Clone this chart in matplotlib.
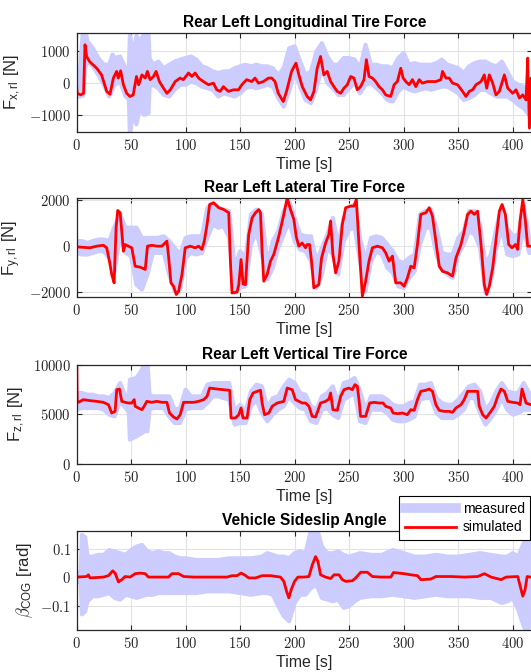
import numpy as np
import matplotlib
matplotlib.use("Agg")
import matplotlib.pyplot as plt
from matplotlib.lines import Line2D
from matplotlib.ticker import FuncFormatter

# ---- data (time [s], value) ----
T_END = 417.7

FX_SIM = [(0, 0), (0.5, -320), (4, -370), (6.5, -320), (7.8, 1210), (9.3, 840), (12, 680),
          (18.5, 470), (23, 260), (27.7, -260), (30.7, -350), (33.8, 160), (36.8, 370),
          (38.3, 160), (40.5, 390), (43, -50), (46, -320), (49, -420), (52, -370), (55, 210),
          (57, -50), (60, 260), (63, 160), (65, 370), (67.5, 110), (70.6, 210), (73, 370),
          (76, 50), (79.8, -160), (82.9, -320), (86, -210), (90.5, 50), (95, 160), (98, 110),
          (102.7, 320), (105.8, 210), (108.8, 320), (111.9, 160), (116.4, 50), (121, -50),
          (125.6, 0), (128.6, -210), (131.7, -260), (134.7, -110), (139.3, -260), (143.9, -210),
          (148.5, -210), (151.6, -50), (156, 110), (160.7, 50), (163.7, 160), (166.8, 0),
          (171.4, 50), (176, 160), (179, 160), (182, 50), (185, -320), (189.6, -580),
          (192.6, -260), (197.2, 370), (201.2, 630), (203.9, 260), (207, -110), (211.5, -420),
          (214.6, -530), (217.7, -260), (220.7, 470), (223.8, 840), (226.8, 260), (229.9, 370),
          (233, 50), (236, -110), (239.1, -260), (242.2, -320), (245.2, -160), (248.3, -50),
          (251.4, 210), (254.4, 160), (257.5, -210), (260.5, -110), (263.6, 110), (265.8, 740),
          (268.2, 210), (271.3, 160), (274.3, 50), (277.4, -110), (280.5, -210), (283.5, -370),
          (288.1, -420), (291.2, -50), (294.2, 50), (297.3, 470), (299.5, 160), (301.9, 50),
          (305, -50), (308, 110), (311.1, -110), (314.2, 110), (317.2, 0), (321.8, 50),
          (326.4, 50), (329.5, 50), (334.1, 110), (335.6, 370), (338.7, 160), (341.7, 160),
          (344.8, 0), (349.4, -50), (354, -260), (357.1, -420), (360.1, -260), (363.2, -210),
          (366.3, -50), (370.9, 50), (373.9, 260), (376.1, -160), (378.5, 260), (381.6, 0),
          (384.6, -370), (387.7, -260), (392.3, 260), (395.4, -160), (400, -320), (403, -210),
          (406.1, -470), (409.2, -370), (412.2, -530), (413.7, 790), (415.3, -1420),
          (416.8, 160), (417.7, -300)]

FX_MEAS = [(0, -420, 100), (3, -420, 300), (6, -400, 1700), (8, 500, 1700), (10, 680, 1320),
           (15, 530, 1100), (20, 260, 790), (25, -50, 580), (30, -420, 580), (33, -200, 900),
           (35, -50, 790), (40, 50, 840), (45, -420, 470), (48, -500, 470), (49, -1600, 1500),
           (52, -900, 900), (55, -1300, 1500), (58, -800, 1300), (62, -1000, 1550),
           (66, -950, 1550), (67, -110, 790), (70, -50, 580), (75, -160, 680), (80, -370, 470),
           (85, -420, 580), (90, -210, 680), (95, -50, 740), (100, -50, 790), (105, 50, 840),
           (110, 0, 740), (115, -110, 530), (120, -160, 470), (125, -210, 370), (130, -420, 320),
           (135, -320, 370), (140, -370, 370), (145, -420, 470), (150, -320, 530),
           (155, -160, 580), (160, -110, 530), (165, -160, 580), (170, -110, 530),
           (175, -50, 530), (180, -110, 470), (185, -470, 260), (190, -740, 470),
           (195, -260, 1100), (200, 370, 1160), (205, -110, 680), (210, -530, 260),
           (215, -630, 370), (220, -160, 1000), (225, 470, 1260), (230, 0, 840),
           (235, -160, 580), (240, -370, 580), (245, -370, 790), (250, -160, 790), (255, 0, 740),
           (260, -320, 470), (265, -50, 1210), (270, 0, 580), (275, -160, 580), (280, -320, 530),
           (285, -530, 530), (290, -580, 470), (295, -260, 790), (300, -110, 950),
           (305, -210, 580), (310, -260, 630), (315, -210, 580), (320, -160, 580),
           (325, -210, 580), (330, -160, 630), (335, -110, 740), (340, -110, 580),
           (345, -210, 530), (350, -320, 470), (355, -530, 320), (360, -470, 530),
           (365, -370, 630), (370, -210, 680), (375, -210, 680), (380, -320, 580),
           (385, -420, 530), (390, -420, 680), (395, -420, 370), (400, -530, 50),
           (405, -680, -50), (410, -790, -110), (415, -1000, -160), (417.7, -900, -100)]

FY_SIM = [(0, -30), (12.4, -70), (18.5, 0), (24.7, 40), (27.7, -70), (30.2, -650), (32.3, -1230),
          (34.5, -1590), (36.3, 800), (37.8, 1550), (40, 1450), (41.5, 650), (43, -220),
          (44.6, 70), (47.6, 0), (50.7, -70), (53.8, -870), (58.4, -910), (63, -1010), (65.1, 0),
          (69.1, 40), (73.7, 0), (78.3, 0), (82.9, 220), (84.4, -430), (86.6, -1590),
          (89, -1740), (91.5, -2100), (93.6, -1960), (96.7, -1230), (99.7, -70), (104.3, 0),
          (108.9, -70), (112, 0), (115, -140), (117.2, 220), (119.7, 940), (122.1, 1810),
          (125.8, 1880), (130.4, 1670), (135, 1590), (139.6, 1450), (141.1, -650),
          (142.6, -2030), (147.2, -1990), (148.8, -1670), (150.9, -580), (152.7, -1640),
          (154.9, -1670), (157.9, 510), (161, 1230), (164.1, 1450), (167.1, 1590),
          (168.7, 1450), (170.2, -220), (171.7, -1520), (174.8, -1230), (177.9, -650),
          (180.9, -360), (185.5, 430), (190.1, 1380), (193.2, 2100), (196.2, 1590),
          (199.3, 1160), (201.5, 400), (203.9, 0), (206.9, 140), (210, -70), (211.5, 70),
          (213.7, 70), (215.5, -650), (217.6, -1810), (222.2, -1670), (224.7, -510),
          (228.4, 140), (231.4, 510), (233, 1090), (235.1, -360), (237.6, -1160),
          (240.6, -650), (243.7, 940), (246.8, 1670), (251.4, 1740), (254.4, 1740),
          (256.6, 2030), (259, 70), (262.1, -2170), (265.1, -1520), (268.2, -650), (271.3, -70),
          (275.9, 0), (280.5, -70), (283.5, -290), (286.6, -650), (289.7, -430), (292.7, -1590),
          (297.3, -1590), (300.4, -1740), (303.4, -1380), (306.5, -870), (309.6, -940),
          (312.6, 70), (315.7, 1380), (320.3, 1450), (323.4, 1670), (326.4, 1300), (329.5, 220),
          (332.6, -870), (335.6, -1090), (340.2, -1160), (344.8, -1300), (347.9, -510),
          (352.5, 70), (355.5, 650), (358.6, 1380), (361.7, 1520), (364.7, 1380), (367.8, 1520),
          (370.9, 70), (373.9, -1670), (376.1, -2100), (378.5, -1740), (381.6, -940),
          (384.6, 290), (387.7, 1520), (390.2, 1810), (393.2, 1380), (396.3, 70), (399.3, -70),
          (402.4, 70), (404.5, -140), (406.7, 1090), (409.2, 2030), (411.6, 1090), (413.7, 0),
          (417.7, 0)]

FY_MEAS = [(0, -290, 220), (5, -360, 220), (10, -360, 140), (15, -290, 220), (20, -220, 290),
           (25, -220, 290), (30, -510, 220), (35, -1090, 870), (40, 510, 1380), (45, -290, 800),
           (50, -430, 800), (55, -1670, 800), (60, -1880, 360), (65, -1230, 360), (70, -290, 360),
           (75, -290, 360), (80, -290, 430), (85, -1230, 220), (90, -1960, -70),
           (95, -1880, -360), (100, -510, 360), (105, -290, 430), (110, -360, 430),
           (115, -290, 430), (120, 360, 1670), (125, 940, 1880), (130, 800, 1670),
           (135, 870, 1590), (140, 360, 1520), (145, -2030, -940), (150, -1810, -220),
           (155, -1740, -510), (160, 70, 1380), (165, 650, 1590), (170, -360, 1380),
           (175, -1450, -800), (180, -940, 220), (185, -70, 650), (190, 510, 1520),
           (195, 1090, 1960), (200, 220, 1230), (205, -140, 510), (210, -220, 430),
           (215, -650, 430), (220, -1810, -650), (225, -1230, -70), (230, -70, 510),
           (235, -360, 1230), (240, -1230, 70), (245, 220, 1230), (250, 720, 1670),
           (255, 800, 1810), (260, -650, 360), (265, -1960, -650), (270, -650, 360),
           (275, -220, 430), (280, -360, 360), (285, -940, 70), (290, -1160, -220),
           (295, -1740, -650), (300, -1810, -720), (305, -1380, -510), (310, -1090, -360),
           (315, 70, 1380), (320, 800, 1520), (325, 800, 1590), (330, -360, 800),
           (335, -1010, -290), (340, -1230, -360), (345, -1380, -360), (350, -360, 360),
           (355, 70, 650), (360, 650, 1520), (365, 510, 1520), (370, -70, 940),
           (375, -2030, -800), (380, -1520, -360), (385, -70, 800), (390, 800, 1740),
           (395, -360, 800), (400, -430, 430), (405, -360, 510), (410, 800, 1810),
           (415, -290, 360), (417.7, -290, 300)]

FZ_SIM = [(0, 0), (0.2, 10000), (0.6, 6210), (1.7, 6210), (6.3, 6480), (12.4, 6380),
          (18.5, 6310), (24.7, 6210), (29.3, 5970), (32.3, 5130), (35.4, 5300), (36.9, 7480),
          (39.4, 7550), (41.5, 6310), (44.6, 6210), (47.6, 6140), (50.7, 6140), (52.9, 6480),
          (53.8, 5810), (56.8, 5640), (59.9, 5470), (62, 5810), (64.5, 6310), (69.1, 6210),
          (73.7, 6310), (78.3, 6210), (82.9, 6210), (85.3, 5130), (89, 4730), (92.1, 4530),
          (95.1, 4970), (98.2, 6210), (102.8, 6210), (107.4, 6210), (112, 6310), (116.6, 6480),
          (119.7, 6810), (122.1, 7650), (128.8, 7550), (135, 7480), (140.5, 7420),
          (141.7, 4630), (145.7, 4630), (148.8, 4970), (150.9, 5640), (152.7, 4630),
          (156.4, 4630), (158.9, 6480), (161.9, 7150), (165.6, 7320), (168.7, 7420),
          (170.2, 6140), (172.4, 4970), (176.3, 5130), (179.4, 5810), (184, 6140),
          (190.1, 6310), (193.2, 7650), (197.8, 7480), (200.8, 6480), (203.9, 6310),
          (206.9, 6140), (210, 6140), (213.1, 5810), (216.1, 4800), (219.2, 4730),
          (223.8, 6140), (228.4, 6310), (231.4, 6540), (233, 7150), (235.1, 5470),
          (239.1, 5400), (242.2, 6810), (245.2, 7480), (249.8, 7650), (252.9, 7480),
          (255.3, 7990), (257.5, 7820), (259, 6480), (260.5, 4800), (265.1, 4800),
          (268.8, 6140), (272.8, 6210), (277.4, 6140), (281.1, 6140), (283.5, 5810),
          (288.1, 5640), (290.3, 5130), (294.3, 5070), (298.9, 5130), (303.4, 4970),
          (306.5, 5470), (309.6, 5400), (312.6, 6480), (315.7, 7320), (320.3, 7420),
          (323.4, 7550), (326.4, 7320), (329.5, 5970), (332.6, 5400), (337.1, 5300),
          (341.7, 5300), (344.8, 5200), (347.9, 5640), (352.5, 5970), (355.5, 6480),
          (358.6, 7320), (363.2, 7320), (367.8, 7320), (369.3, 5810), (372.4, 4970),
          (375.5, 4630), (380, 5300), (383.1, 5810), (386.2, 6810), (389.2, 7550),
          (392.3, 7320), (395.4, 6310), (400, 6210), (404.6, 6140), (406.7, 5970),
          (408.5, 7550), (412.2, 6140), (416.8, 5970), (417.7, 6000)]

FZ_MEAS = [(0, 5470, 7150), (5, 5640, 7150), (10, 5640, 6980), (15, 5640, 6980),
           (20, 5640, 6810), (25, 5470, 6810), (30, 4970, 6640), (35, 4800, 7150),
           (40, 6310, 8150), (45, 5640, 6810), (48, 5200, 6810), (49, 2450, 8490),
           (55, 2790, 8660), (60, 3120, 9500), (62, 3300, 10200), (65, 3290, 10170),
           (67, 5470, 6980), (70, 5640, 6810), (75, 5640, 6810), (80, 5640, 6810),
           (85, 4800, 6810), (90, 4130, 5470), (95, 4130, 5640), (100, 5470, 7480),
           (105, 5640, 6810), (110, 5640, 6810), (115, 5640, 6810), (120, 6140, 7990),
           (125, 6810, 8150), (130, 6810, 8150), (135, 6640, 8150), (140, 6480, 8150),
           (145, 3960, 5300), (150, 4130, 5970), (155, 4130, 5300), (160, 5810, 7320),
           (165, 6480, 7990), (170, 5130, 7820), (175, 4300, 5640), (180, 4970, 6640),
           (185, 5470, 6810), (190, 5810, 7820), (195, 6810, 8490), (200, 6140, 8150),
           (205, 5640, 7150), (210, 5470, 6980), (215, 4300, 5810), (220, 4130, 5470),
           (225, 5470, 6810), (230, 5640, 7150), (235, 4970, 7820), (240, 4630, 6140),
           (245, 6480, 8150), (250, 6810, 8320), (255, 7150, 8660), (260, 4300, 7320),
           (265, 4130, 5470), (270, 5470, 6810), (275, 5470, 6810), (280, 5470, 6810),
           (285, 5130, 6480), (290, 4460, 5970), (295, 4300, 5810), (300, 4300, 5810),
           (305, 4460, 6140), (310, 4800, 6310), (315, 6480, 7990), (320, 6640, 7990),
           (325, 6640, 8150), (330, 5130, 6640), (335, 4630, 6140), (340, 4630, 5970),
           (345, 4630, 5970), (350, 4970, 6480), (355, 5470, 7150), (360, 6640, 7820),
           (365, 6640, 7990), (370, 5130, 7320), (375, 3960, 5470), (380, 4630, 6140),
           (385, 5470, 7320), (390, 6640, 8150), (395, 5470, 7320), (400, 4970, 7150),
           (405, 5130, 7150), (410, 5470, 8150), (415, 5470, 7150), (417.7, 5470, 7000)]

BETA_SIM = [(0, 0), (9.3, 0.002), (10.9, 0.008), (12.4, -0.003), (24.7, 0), (29.3, 0.005),
            (33.2, 0.022), (35.4, 0.014), (38.5, -0.017), (41.5, -0.009), (44.6, 0.002),
            (49.2, 0), (53.8, 0.012), (58.4, 0.014), (63, 0.012), (66, 0), (73.7, 0), (84.4, 0),
            (87.5, 0.012), (93.6, 0.012), (98.2, 0.002), (107.4, 0), (122.7, 0), (138, 0),
            (142.6, 0.005), (147.2, 0.005), (150.9, 0.014), (154, 0.008), (157.9, -0.003),
            (164.1, -0.003), (170.2, 0.005), (177.9, 0.005), (187, 0), (190.1, -0.015),
            (192.6, -0.05), (194.7, -0.073), (196.9, -0.044), (199.9, -0.015), (203, 0),
            (208.5, 0), (213.1, 0.002), (216.2, 0.043), (219.2, 0.072), (221.4, 0.055),
            (223.8, 0.008), (228.4, 0), (233, -0.005), (236.1, 0.008), (240.7, 0.008),
            (243.7, -0.009), (246.8, -0.015), (252.9, -0.013), (256, -0.003), (260.6, 0.017),
            (266.7, 0.017), (271.3, 0.002), (279, 0), (288.2, 0), (290.6, 0.016),
            (300.4, 0.012), (306.6, 0.008), (312.7, 0.005), (315.7, -0.009), (324.9, -0.007),
            (329.5, 0.002), (343.3, 0.002), (355.6, 0), (367.8, 0.002), (374, 0.012),
            (380.1, 0), (389.3, -0.009), (393.9, 0), (404.6, 0.002), (406.1, -0.021),
            (409.2, -0.067), (411.3, -0.044), (413.2, 0.002), (416.2, 0), (417.7, 0)]

BETA_MEAS = [(0, -0.015, 0.014), (4, -0.02, 0.02), (5, -0.131, 0.148), (8, -0.12, 0.14),
             (10, -0.085, 0.072), (15, -0.067, 0.072), (20, -0.067, 0.078), (25, -0.062, 0.078),
             (30, -0.056, 0.095), (35, -0.073, 0.09), (40, -0.079, 0.084), (45, -0.062, 0.078),
             (50, -0.067, 0.095), (55, -0.073, 0.107), (60, -0.067, 0.113), (65, -0.062, 0.09),
             (70, -0.062, 0.084), (75, -0.056, 0.09), (80, -0.056, 0.084), (85, -0.056, 0.084),
             (90, -0.056, 0.072), (95, -0.056, 0.066), (100, -0.056, 0.066), (110, -0.056, 0.06),
             (120, -0.05, 0.06), (130, -0.05, 0.06), (140, -0.05, 0.066), (150, -0.056, 0.066),
             (160, -0.062, 0.066), (170, -0.056, 0.072), (175, -0.056, 0.084),
             (180, -0.062, 0.078), (185, -0.102, 0.072), (190, -0.137, 0.072),
             (195, -0.155, 0.066), (200, -0.091, 0.084), (205, -0.062, 0.09),
             (210, -0.062, 0.084), (215, -0.038, 0.165), (220, -0.027, 0.177),
             (225, -0.073, 0.107), (230, -0.079, 0.084), (235, -0.085, 0.084),
             (240, -0.079, 0.09), (245, -0.108, 0.078), (250, -0.102, 0.072),
             (255, -0.085, 0.078), (260, -0.073, 0.084), (270, -0.067, 0.078),
             (280, -0.067, 0.078), (290, -0.062, 0.095), (300, -0.067, 0.084),
             (310, -0.073, 0.072), (320, -0.067, 0.072), (330, -0.062, 0.078),
             (340, -0.067, 0.072), (350, -0.067, 0.072), (360, -0.067, 0.078),
             (370, -0.073, 0.084), (380, -0.073, 0.078), (390, -0.091, 0.072),
             (395, -0.085, 0.072), (400, -0.073, 0.084), (405, -0.114, 0.072),
             (410, -0.172, 0.119), (413, -0.195, 0.13), (417.7, -0.149, 0.119)]

PANELS = [
    ("Rear Left Longitudinal Tire Force", r"F$_{\mathregular{x,rl}}$ [N]",
     FX_SIM, FX_MEAS, (-1540, 1590), [-1000, 0, 1000]),
    ("Rear Left Lateral Tire Force", r"F$_{\mathregular{y,rl}}$ [N]",
     FY_SIM, FY_MEAS, (-2210, 2100), [-2000, 0, 2000]),
    ("Rear Left Vertical Tire Force", r"F$_{\mathregular{z,rl}}$ [N]",
     FZ_SIM, FZ_MEAS, (0, 10000), [0, 5000, 10000]),
    ("Vehicle Sideslip Angle", r"$\beta_{\mathregular{COG}}$ [rad]",
     BETA_SIM, BETA_MEAS, (-0.187, 0.162), [-0.1, 0, 0.1]),
]
X_TICKS = [0, 50, 100, 150, 200, 250, 300, 350, 400]

MEAS_COLOR = "#ccccff"
SIM_COLOR = "#ff0000"
AX_COLOR = "#262626"

plt.rcParams["font.family"] = ["Liberation Sans", "DejaVu Sans"]
plt.rcParams["mathtext.fontset"] = "cm"

fig = plt.figure(figsize=(5.31, 6.72), dpi=100)

W, H = 531.0, 672.0
ax_left = 76.5
ax_tops = [32.7, 197.8, 364.7, 531.0]
ax_h = 99.3

tick_fmt = FuncFormatter(lambda v, pos: f"${v:g}$")

for (title, ylabel, sim, meas, ylim, yticks), top in zip(PANELS, ax_tops):
    ax = fig.add_axes([ax_left / W, 1 - (top + ax_h) / H, (W - ax_left) / W + 0.002, ax_h / H])
    sim = np.array(sim)
    meas = np.array(meas)

    # measured signal drawn as a wide light band, simulated on top in red
    ax.fill_between(meas[:, 0], meas[:, 1], meas[:, 2], color=MEAS_COLOR, lw=0, zorder=1)
    ax.plot(meas[:, 0], meas[:, 1], color=MEAS_COLOR, lw=3, solid_capstyle="round", zorder=1)
    ax.plot(meas[:, 0], meas[:, 2], color=MEAS_COLOR, lw=3, solid_capstyle="round", zorder=1)
    ax.plot(sim[:, 0], sim[:, 1], color=SIM_COLOR, lw=2.0, zorder=2)

    ax.set_xlim(0, T_END)
    ax.set_ylim(*ylim)
    ax.set_xticks(X_TICKS)
    ax.set_yticks(yticks)
    ax.xaxis.set_major_formatter(tick_fmt)
    ax.yaxis.set_major_formatter(tick_fmt)
    ax.tick_params(direction="in", length=3.5, width=0.8, color=AX_COLOR,
                   top=True, right=True, labelsize=10.5, labelcolor=AX_COLOR, pad=4)
    for sp in ax.spines.values():
        sp.set_color(AX_COLOR)
        sp.set_linewidth(0.9)
    ax.grid(True, color="#e3e3e3", lw=0.8)
    ax.set_axisbelow(True)

    ax.set_title(title, fontsize=11.2, fontweight="bold", pad=4)
    ax.set_xlabel("Time [s]", fontsize=11.5, labelpad=3, color=AX_COLOR)
    ax.set_ylabel(ylabel, fontsize=12, labelpad=4, color=AX_COLOR)

handles = [Line2D([], [], color=MEAS_COLOR, lw=7),
           Line2D([], [], color=SIM_COLOR, lw=2.0)]
leg = fig.legend(handles, ["measured", "simulated"], loc="upper left",
                 bbox_to_anchor=(399 / W, 1 - 496 / H), fontsize=10,
                 frameon=True, fancybox=False, framealpha=1, edgecolor="black",
                 handlelength=3.7, handletextpad=0.5, borderpad=0.4, labelspacing=0.35,
                 borderaxespad=0)
leg.get_frame().set_linewidth(0.8)

fig.savefig("out.png", dpi=100)
